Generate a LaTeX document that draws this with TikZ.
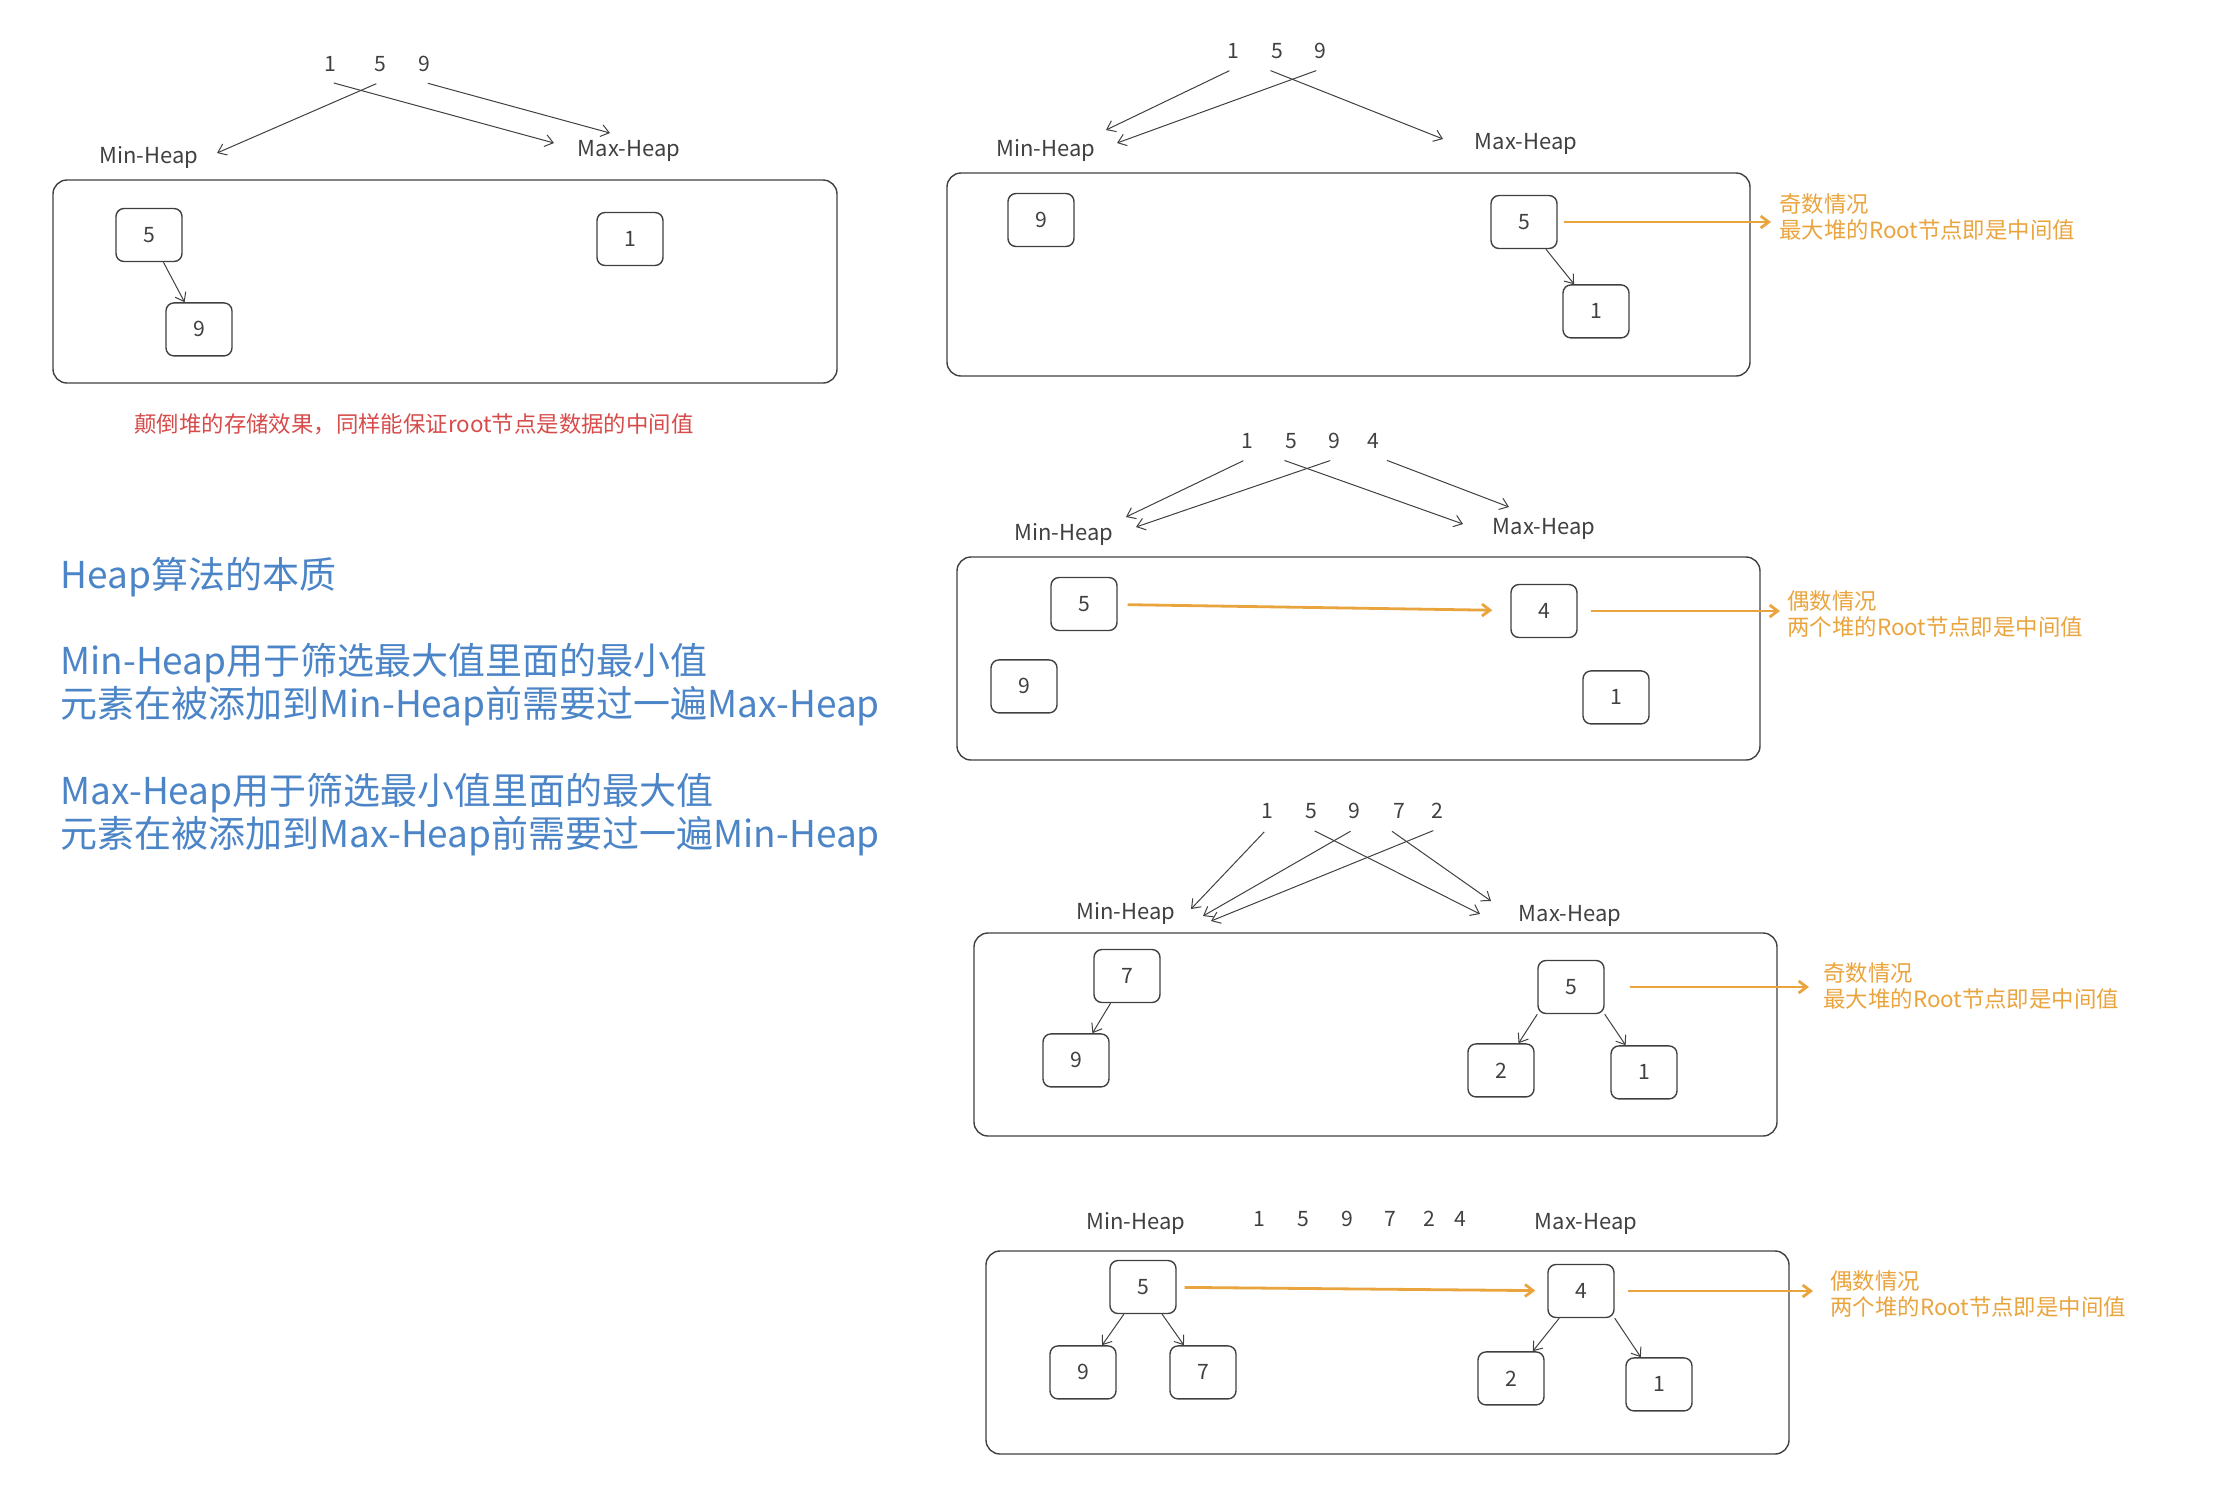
\documentclass[tikz,border=0pt]{standalone}
\usepackage{fontspec}
\setmainfont{Noto Sans CJK SC}
\usetikzlibrary{arrows.meta,positioning}
\definecolor{inkgray}{RGB}{64,64,64}
\definecolor{noteblue}{RGB}{76,133,199}
\definecolor{midorange}{RGB}{234,164,62}
\definecolor{warnred}{RGB}{215,75,75}

\begin{document}
\begin{tikzpicture}[x=0.5pt, y=-0.5pt, >={Straight Barb[length=4pt,width=6pt]},
  heapbox/.style={draw=inkgray, line width=0.7pt, rounded corners=7pt, minimum width=401.5pt, minimum height=101.5pt},
  heapnode/.style={draw=inkgray, line width=0.7pt, rounded corners=4pt, minimum width=33pt, minimum height=26.5pt, font=\fontsize{10.6}{12}\selectfont, text=inkgray},
  seqnum/.style={font=\fontsize{10.6}{12}\selectfont, text=inkgray, inner xsep=2pt, inner ysep=5pt},
  heaplabel/.style={font=\fontsize{11}{13}\selectfont, text=inkgray, inner sep=0pt},
  feed/.style={->, draw=inkgray, line width=0.5pt},
  midarrow/.style={->, draw=midorange, line width=1.4pt},
  midnote/.style={font=\fontsize{11.2}{13}\selectfont, text=midorange, align=left, anchor=west, inner sep=0pt},
  essay/.style={font=\fontsize{18.5}{21.5}\selectfont, text=noteblue, anchor=west, inner sep=0pt}]
  \useasboundingbox (0,0) rectangle (2240,1496);

  % reversed heaps
  \node[seqnum] (a-s1) at (330,64) {1};
  \node[seqnum] (a-s5) at (380,64) {5};
  \node[seqnum] (a-s9) at (424,64) {9};
  \node[heaplabel] (a-min) at (149,157) {Min-Heap};
  \node[heaplabel] (a-max) at (629,151) {Max-Heap};
  \node[heapbox, minimum width=392pt] (a-box) at (445,281.5) {};
  \node[heapnode] (a-5) at (149,235) {5};
  \node[heapnode, below=20pt of a-5, xshift=25pt] (a-9) {9};
  \node[heapnode] (a-1) at (630,239) {1};
  \coordinate (a-t1) at (554,143);
  \coordinate (a-t5) at (217,153);
  \coordinate (a-t9) at (610,133);
  \draw[feed, shorten <=2pt] (a-s1.south) -- (a-t1);
  \draw[feed, shorten <=2pt] (a-s5.south) -- (a-t5);
  \draw[feed, shorten <=2pt] (a-s9.south) -- (a-t9);
  \draw[feed] (a-5) -- (a-9);
  \node[font=\fontsize{11.2}{13}\selectfont, text=warnred] (a-note) at (414,424) {颠倒堆的存储效果，同样能保证root节点是数据的中间值};

  % summary
  \node[essay] (gist) at (60,577) {Heap算法的本质};
  \node[essay] (min-use) at (60,663) {Min-Heap用于筛选最大值里面的最小值};
  \node[essay] (min-add) at (60,706) {元素在被添加到Min-Heap前需要过一遍Max-Heap};
  \node[essay] (max-use) at (60,793) {Max-Heap用于筛选最小值里面的最大值};
  \node[essay] (max-add) at (60,836) {元素在被添加到Max-Heap前需要过一遍Min-Heap};

  % 1 5 9
  \node[seqnum] (b-s1) at (1233,51) {1};
  \node[seqnum] (b-s5) at (1277,51) {5};
  \node[seqnum] (b-s9) at (1320,51) {9};
  \node[heaplabel] (b-min) at (1046,150) {Min-Heap};
  \node[heaplabel] (b-max) at (1526,144) {Max-Heap};
  \node[heapbox] (b-box) at (1348.5,274.5) {};
  \node[heapnode] (b-9) at (1041,220) {9};
  \node[heapnode] (b-5) at (1524,222) {5};
  \node[heapnode, below=17.5pt of b-5, xshift=36pt] (b-1) {1};
  \coordinate (b-t1) at (1106,130);
  \coordinate (b-t9) at (1117,143);
  \coordinate (b-t5) at (1443,139);
  \draw[feed, shorten <=2pt] (b-s1.south) -- (b-t1);
  \draw[feed, shorten <=2pt] (b-s9.south) -- (b-t9);
  \draw[feed, shorten <=2pt] (b-s5.south west) -- (b-t5);
  \draw[feed] (b-5) -- (b-1);
  \node[midnote] (b-note) at (1779,217) {奇数情况\\最大堆的Root节点即是中间值};
  \draw[midarrow, shorten <=3pt, shorten >=4pt] (b-5) -- (b-5 -| b-note.west);

  % 1 5 9 4
  \node[seqnum] (c-s1) at (1247,441) {1};
  \node[seqnum] (c-s5) at (1291,441) {5};
  \node[seqnum] (c-s9) at (1334,441) {9};
  \node[seqnum] (c-s4) at (1373,441) {4};
  \node[heaplabel] (c-min) at (1064,534) {Min-Heap};
  \node[heaplabel] (c-max) at (1544,529) {Max-Heap};
  \node[heapbox] (c-box) at (1358.5,658.5) {};
  \node[heapnode] (c-5) at (1084,604) {5};
  \node[heapnode, below=14pt of c-5, xshift=-30pt] (c-9) {9};
  \node[heapnode] (c-4) at (1544,611) {4};
  \node[heapnode, below=16pt of c-4, xshift=36pt] (c-1) {1};
  \coordinate (c-t1) at (1126,517);
  \coordinate (c-t9) at (1136,527);
  \coordinate (c-t5) at (1463,524);
  \coordinate (c-t4) at (1509,507);
  \draw[feed, shorten <=2pt] (c-s1.south) -- (c-t1);
  \draw[feed, shorten <=2pt] (c-s9.south) -- (c-t9);
  \draw[feed, shorten <=2pt] (c-s5.south west) -- (c-t5);
  \draw[feed, shorten <=2pt] (c-s4.south east) -- (c-t4);
  \draw[midarrow, shorten <=5pt, shorten >=9pt] (c-5) -- (c-4);
  \node[midnote] (c-note) at (1787,614) {偶数情况\\两个堆的Root节点即是中间值};
  \draw[midarrow, shorten <=6.5pt, shorten >=3.5pt] (c-4) -- (c-4 -| c-note.west);

  % 1 5 9 7 2
  \node[seqnum] (d-s1) at (1267,811) {1};
  \node[seqnum] (d-s5) at (1311,811) {5};
  \node[seqnum] (d-s9) at (1354,811) {9};
  \node[seqnum] (d-s7) at (1399,811) {7};
  \node[seqnum] (d-s2) at (1437,811) {2};
  \node[heaplabel] (d-min) at (1126,913) {Min-Heap};
  \node[heaplabel] (d-max) at (1570,916) {Max-Heap};
  \node[heapbox] (d-box) at (1375.5,1034.5) {};
  \node[heapnode] (d-7) at (1127,976) {7};
  \node[heapnode, below=15pt of d-7, xshift=-25.5pt] (d-9) {9};
  \node[heapnode] (d-5) at (1571,987) {5};
  \node[heapnode, below=14.5pt of d-5, xshift=-35pt] (d-2) {2};
  \node[heapnode, below=15.5pt of d-5, xshift=36.5pt] (d-1) {1};
  \coordinate (d-t1) at (1191,909);
  \coordinate (d-t9) at (1203,916);
  \coordinate (d-t2) at (1211,921);
  \coordinate (d-t5) at (1480,914);
  \coordinate (d-t7) at (1491,901);
  \draw[feed, shorten <=2pt] (d-s1.south) -- (d-t1);
  \draw[feed, shorten <=2pt] (d-s9.south) -- (d-t9);
  \draw[feed, shorten <=2pt] (d-s2.south) -- (d-t2);
  \draw[feed, shorten <=2pt] (d-s5.south) -- (d-t5);
  \draw[feed, shorten <=2pt] (d-s7.south west) -- (d-t7);
  \draw[feed] (d-7) -- (d-9);
  \draw[feed] (d-5.south west) -- (d-2);
  \draw[feed] (d-5.south east) -- (d-1);
  \node[midnote] (d-note) at (1823,986) {奇数情况\\最大堆的Root节点即是中间值};
  \draw[midarrow, shorten <=12.5pt, shorten >=7pt] (d-5) -- (d-5 -| d-note.west);

  % 1 5 9 7 2 4
  \node[heaplabel] (e-min) at (1136,1223) {Min-Heap};
  \node[seqnum] (e-s1) at (1259,1219) {1};
  \node[seqnum] (e-s5) at (1303,1219) {5};
  \node[seqnum] (e-s9) at (1347,1219) {9};
  \node[seqnum] (e-s7) at (1390,1219) {7};
  \node[seqnum] (e-s2) at (1429,1219) {2};
  \node[seqnum] (e-s4) at (1460,1219) {4};
  \node[heaplabel] (e-max) at (1586,1224) {Max-Heap};
  \node[heapbox] (e-box) at (1387.5,1352.5) {};
  \node[heapnode] (e-5) at (1143,1287) {5};
  \node[heapnode, below=15.5pt of e-5, xshift=-30pt] (e-9) {9};
  \node[heapnode, below=15.5pt of e-5, xshift=30pt] (e-7) {7};
  \node[heapnode] (e-4) at (1581,1291) {4};
  \node[heapnode, below=16.5pt of e-4, xshift=-35pt] (e-2) {2};
  \node[heapnode, below=19.5pt of e-4, xshift=39pt] (e-1) {1};
  \draw[feed] (e-5) -- (e-9);
  \draw[feed] (e-5) -- (e-7);
  \draw[feed] (e-4) -- (e-2);
  \draw[feed] (e-4.south east) -- (e-1);
  \draw[midarrow, shorten <=4pt, shorten >=6pt] (e-5) -- (e-4);
  \node[midnote] (e-note) at (1830,1294) {偶数情况\\两个堆的Root节点即是中间值};
  \draw[midarrow, shorten <=6.5pt, shorten >=8.5pt] (e-4) -- (e-4 -| e-note.west);
\end{tikzpicture}
\end{document}
